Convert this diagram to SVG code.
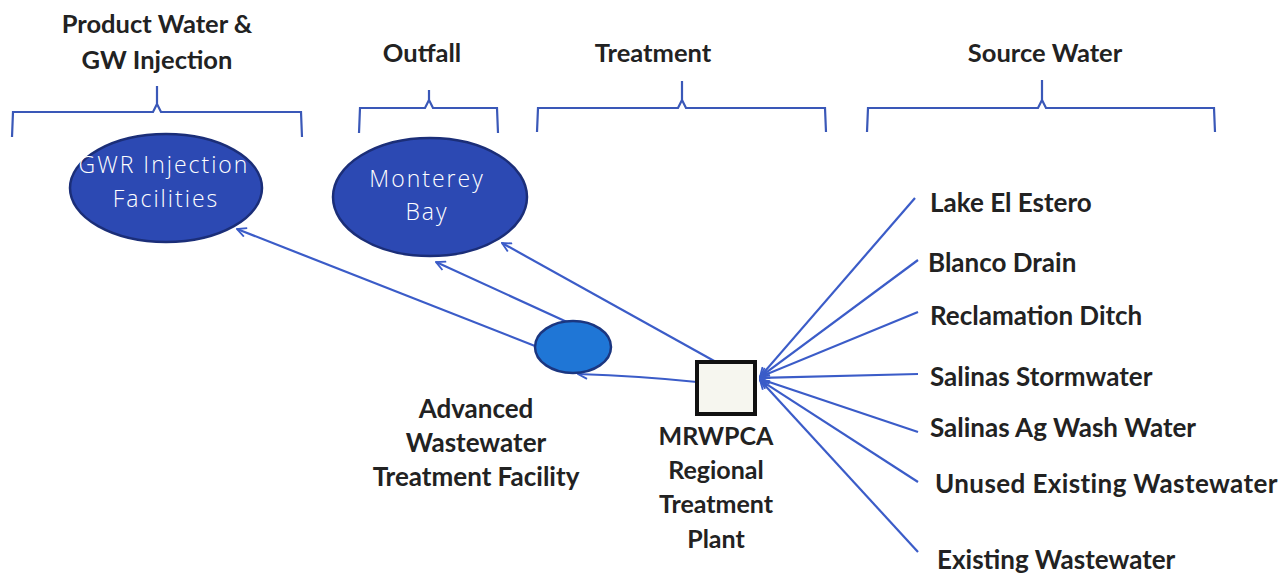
<svg xmlns="http://www.w3.org/2000/svg" width="1286" height="573" viewBox="0 0 1286 573">
<style>
.hdr{font-family:Lato,"Liberation Sans",sans-serif;font-weight:bold;font-size:25.5px;fill:#222;text-anchor:middle}
.lbl{font-family:Lato,"Liberation Sans",sans-serif;font-weight:bold;font-size:26px;fill:#222}
.ctr{text-anchor:middle}
.wt{font-family:"Open Sans","Liberation Sans",sans-serif;font-weight:300;font-size:23px;letter-spacing:2px;fill:#fff;text-anchor:middle}
.br{fill:none;stroke:#3a58b8;stroke-width:2.2}
.cn{fill:none;stroke:#3b5cc8;stroke-width:2.2}
</style>
<defs>
<marker id="arr" viewBox="0 0 12 12" refX="11" refY="6" markerWidth="11" markerHeight="11" markerUnits="userSpaceOnUse" orient="auto">
<path d="M1,1 L11,6 L1,11" fill="none" stroke="#3b5cc8" stroke-width="2"/>
</marker>
</defs>
<rect width="1286" height="573" fill="#fff"/>
<g id="headers">
<text class="hdr" x="157" y="33">Product Water &amp;</text>
<text class="hdr" x="157" y="69">GW Injection</text>
<text class="hdr" x="422" y="62">Outfall</text>
<text class="hdr" x="653" y="62">Treatment</text>
<text class="hdr" x="1045" y="62">Source Water</text>
</g>
<g id="brackets">
<path class="br" d="M12,137 L13,112 L153,112 L157,104 L157,86 M157,104 L161,112 L301,112 L302,137"/>
<path class="br" d="M359,133 L360,108 L425,108 L429,100 L429,90 M429,100 L433,108 L497,108 L498,133"/>
<path class="br" d="M537,132 L538,108 L678,108 L682,100 L682,81 M682,100 L686,108 L825,108 L826,132"/>
<path class="br" d="M867,132 L868,108 L1038,108 L1042,100 L1042,80 M1042,100 L1046,108 L1214,108 L1215,132"/>
</g>
<g id="connectors">
<line class="cn" x1="716" y1="362" x2="502" y2="243" marker-end="url(#arr)"/>
<line class="cn" x1="567" y1="322" x2="436" y2="262" marker-end="url(#arr)"/>
<line class="cn" x1="535" y1="346" x2="237" y2="229" marker-end="url(#arr)"/>
<path class="cn" d="M697,382 Q640,376 578,374" marker-end="url(#arr)"/>
<line class="cn" x1="915" y1="198" x2="760" y2="377" marker-end="url(#arr)"/>
<line class="cn" x1="918" y1="260" x2="760" y2="377" marker-end="url(#arr)"/>
<line class="cn" x1="918" y1="312" x2="760" y2="377" marker-end="url(#arr)"/>
<line class="cn" x1="918" y1="374" x2="760" y2="378" marker-end="url(#arr)"/>
<line class="cn" x1="918" y1="432" x2="760" y2="379" marker-end="url(#arr)"/>
<line class="cn" x1="918" y1="482" x2="760" y2="380" marker-end="url(#arr)"/>
<line class="cn" x1="918" y1="552" x2="760" y2="380" marker-end="url(#arr)"/>
</g>
<g id="gwr">
<ellipse cx="166" cy="188" rx="96" ry="54" fill="#2c49b3" stroke="#1b2e78" stroke-width="2.5"/>
<text class="wt" x="164" y="173">GWR Injection</text>
<text class="wt" x="166" y="207">Facilities</text>
</g>
<g id="monterey">
<ellipse cx="430" cy="197" rx="97" ry="59" fill="#2c49b3" stroke="#1b2e78" stroke-width="2.5"/>
<text class="wt" x="427" y="187">Monterey</text>
<text class="wt" x="427" y="220">Bay</text>
</g>
<g id="awtf">
<ellipse cx="573" cy="347" rx="38" ry="26" fill="#1f76d6" stroke="#1b3680" stroke-width="2.5"/>
<text class="lbl ctr" x="476" y="418">Advanced</text>
<text class="lbl ctr" x="476" y="452">Wastewater</text>
<text class="lbl ctr" x="476" y="486">Treatment Facility</text>
</g>
<g id="mrwpca">
<rect x="697" y="362" width="58" height="52" fill="#f6f6ef" stroke="#111" stroke-width="4"/>
<text class="lbl ctr" x="716" y="445" style="font-size:25px">MRWPCA</text>
<text class="lbl ctr" x="716" y="479" style="font-size:25px">Regional</text>
<text class="lbl ctr" x="716" y="513" style="font-size:25px">Treatment</text>
<text class="lbl ctr" x="716" y="548" style="font-size:25px">Plant</text>
</g>
<g id="sources">
<text class="lbl" x="930" y="212">Lake El Estero</text>
<text class="lbl" x="928" y="272">Blanco Drain</text>
<text class="lbl" x="930" y="325">Reclamation Ditch</text>
<text class="lbl" x="930" y="386">Salinas Stormwater</text>
<text class="lbl" x="930" y="437">Salinas Ag Wash Water</text>
<text class="lbl" x="935" y="493" style="letter-spacing:0.4px">Unused Existing Wastewater</text>
<text class="lbl" x="937" y="569">Existing Wastewater</text>
</g>
</svg>
